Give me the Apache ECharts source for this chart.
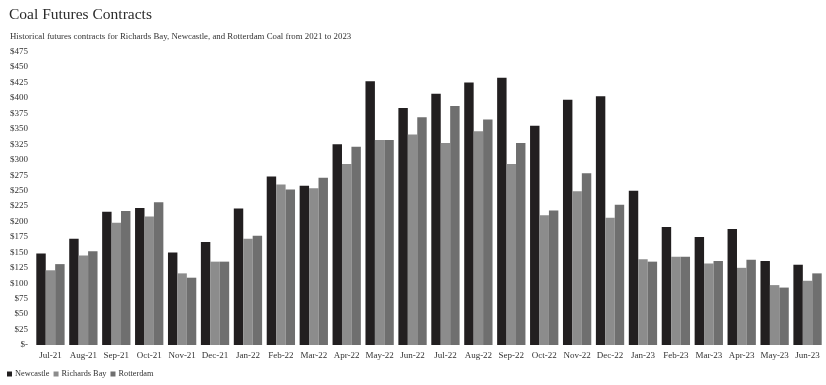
<!DOCTYPE html>
<html>
<head>
<meta charset="utf-8">
<script src="https://cdn.jsdelivr.net/npm/echarts@6/dist/echarts.min.js"></script>
<style>
html,body{margin:0;padding:0;background:#fff;}
#c{width:826px;height:385px;}
</style>
</head>
<body>
<div id="c"></div>
<script>
const categories = ['Jul-21','Aug-21','Sep-21','Oct-21','Nov-21','Dec-21','Jan-22','Feb-22','Mar-22','Apr-22','May-22','Jun-22','Jul-22','Aug-22','Sep-22','Oct-22','Nov-22','Dec-22','Jan-23','Feb-23','Mar-23','Apr-23','May-23','Jun-23'];
const newcastle = [148,172,216,222,150,167,221,273,258,325,427,384,407,425,433,355,397,403,250,191,175,188,136,130];
const richardsBay = [121,145,198,208,116,135,172,260,254,293,332,341,327,346,293,210,249,206,139,143,132,125,97,104];
const rotterdam = [131,152,217,231,109,135,177,252,271,321,332,369,387,365,327,218,278,227,135,143,136,138,93,116];
const yTicks = {min:0, max:475, step:25};

const font = '"Liberation Serif", "DejaVu Serif", serif';
const chart = echarts.init(document.getElementById('c'));
chart.setOption({
  backgroundColor:'#fff',
  animation:false,
  title:[
    {text:'Coal Futures Contracts', left:4, top:2, textStyle:{fontFamily:font, fontSize:15.5, fontWeight:'normal', color:'#2b2b2b'}},
    {text:'Historical futures contracts for Richards Bay, Newcastle, and Rotterdam Coal from 2021 to 2023', left:5, top:27, textStyle:{fontFamily:font, fontSize:8.8, fontWeight:'normal', color:'#333'}}
  ],
  legend:{
    left:2, bottom:2, itemWidth:5, itemHeight:5, itemGap:4, icon:'rect',
    textStyle:{fontFamily:font, fontSize:8.3, color:'#333', padding:[0,0,0,-2]},
    data:['Newcastle','Richards Bay','Rotterdam']
  },
  grid:{left:34, right:2, top:51.7, bottom:40, containLabel:false},
  xAxis:{
    type:'category', data:categories,
    axisLine:{show:false}, axisTick:{show:false},
    axisLabel:{fontFamily:font, fontSize:9, color:'#333', margin:6, interval:0}
  },
  yAxis:{
    type:'value', min:yTicks.min, max:yTicks.max, interval:yTicks.step,
    splitLine:{show:false}, axisLine:{show:false}, axisTick:{show:false},
    axisLabel:{fontFamily:font, fontSize:9, color:'#333', margin:6,
      formatter:v=> v===0 ? '$-' : '$'+v}
  },
  series:[
    {name:'Newcastle', type:'bar', data:newcastle, itemStyle:{color:'#221f20'}, barGap:'0%', barCategoryGap:'14%'},
    {name:'Richards Bay', type:'bar', data:richardsBay, itemStyle:{color:'#8c8c8c'}, barGap:'0%', barCategoryGap:'14%'},
    {name:'Rotterdam', type:'bar', data:rotterdam, itemStyle:{color:'#6f6f6f'}, barGap:'0%', barCategoryGap:'14%'}
  ]
});
</script>
</body>
</html>
